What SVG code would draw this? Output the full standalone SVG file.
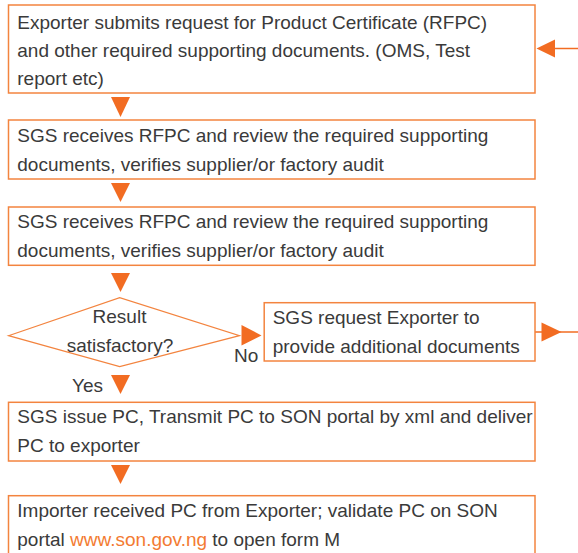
<svg xmlns="http://www.w3.org/2000/svg" width="578" height="553" viewBox="0 0 578 553">
<style>
.box{fill:#fff;stroke:#F3843F;stroke-width:1.5}
.dia{fill:#fff;stroke:#F3843F;stroke-width:1.2}
.t{font-family:"Liberation Sans",Arial,sans-serif;font-size:19px;fill:#3a3a3a}
.c{text-anchor:middle}
.link{fill:#F37B32}
.tri{fill:#F26C22}
.ln{stroke:#F26C22;stroke-width:1.5;fill:none}
</style>
<rect width="578" height="553" fill="#fff"/>
<g id="connectors">
<polygon class="tri" points="111,97 130,97 120.5,117"/>
<polygon class="tri" points="111,183 130,183 120.5,202"/>
<polygon class="tri" points="111,273 130,273 120.5,292"/>
<polygon class="tri" points="241.5,325 241.5,345.5 261.5,335.5"/>
<polygon class="tri" points="111,375 130,375 120.5,394"/>
<polygon class="tri" points="111,465 130,465 120.5,484"/>
<line class="ln" x1="535" y1="332" x2="578" y2="332"/>
<polygon class="tri" points="541.5,322.5 541.5,341.5 561.5,332"/>
<line class="ln" x1="550" y1="48.5" x2="578" y2="48.5"/>
<polygon class="tri" points="536.5,48.5 555,39.5 555,57.5"/>
<text class="t" x="234" y="362">No</text>
<text class="t" x="72" y="392">Yes</text>
</g>
<g id="n1">
<rect class="box" x="8.5" y="5" width="526.5" height="88"/>
<text class="t" x="17.3" y="28.5">Exporter submits request for Product Certificate (RFPC)</text>
<text class="t" x="17.3" y="56.8">and other required supporting documents. (OMS, Test</text>
<text class="t" x="17.3" y="84.5">report etc)</text>
</g>
<g id="n2">
<rect class="box" x="8.5" y="120" width="526.5" height="59"/>
<text class="t" x="17.3" y="142.3">SGS receives RFPC and review the required supporting</text>
<text class="t" x="17.3" y="171">documents, verifies supplier/or factory audit</text>
</g>
<g id="n3">
<rect class="box" x="8.5" y="207" width="526.5" height="58.3"/>
<text class="t" x="17.3" y="228.3">SGS receives RFPC and review the required supporting</text>
<text class="t" x="17.3" y="256.8">documents, verifies supplier/or factory audit</text>
</g>
<g id="n4">
<polygon class="dia" points="8.5,335.7 119.7,297.7 239.5,335.7 119.7,366.7"/>
<text class="t c" x="119.5" y="323.3">Result</text>
<text class="t c" x="120" y="351.5">satisfactory?</text>
</g>
<g id="n5">
<rect class="box" x="264.2" y="302.7" width="270.8" height="58.3"/>
<text class="t" x="272.7" y="324">SGS request Exporter to</text>
<text class="t" x="272.7" y="353.3">provide additional documents</text>
</g>
<g id="n6">
<rect class="box" x="8.5" y="402.3" width="526.5" height="58.7"/>
<text class="t" x="17.3" y="423.3">SGS issue PC, Transmit PC to SON portal by xml and deliver</text>
<text class="t" x="17.3" y="452.3">PC to exporter</text>
</g>
<g id="n7">
<rect class="box" x="8.5" y="495.7" width="526.5" height="70"/>
<text class="t" x="17.3" y="517">Importer received PC from Exporter; validate PC on SON</text>
<text class="t" x="17.3" y="546">portal <tspan class="link">www.son.gov.ng</tspan> to open form M</text>
</g>
</svg>
